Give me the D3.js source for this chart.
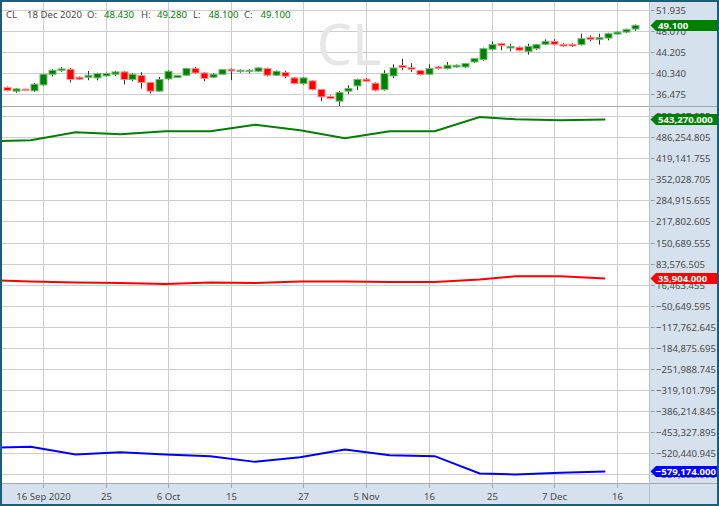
<!DOCTYPE html>
<html><head><meta charset="utf-8">
<script src="https://cdn.jsdelivr.net/npm/d3@7"></script>
<style>body{margin:0;background:#fff;} svg{display:block;font-family:"Noto Sans",sans-serif;}</style>
</head><body><svg id="c" width="719" height="506"></svg>
<script>
// ---------- DATA ----------
const symbol = "CL";
const calendarDays = ["2020-09-08","2020-09-09",
 "2020-09-10","2020-09-11","2020-09-14","2020-09-15","2020-09-16","2020-09-17","2020-09-18","2020-09-21","2020-09-22","2020-09-23","2020-09-24","2020-09-25","2020-09-28","2020-09-29","2020-09-30",
 "2020-10-01","2020-10-02","2020-10-05","2020-10-06","2020-10-07","2020-10-08","2020-10-09","2020-10-12","2020-10-13","2020-10-14","2020-10-15","2020-10-16","2020-10-19","2020-10-20","2020-10-21","2020-10-22","2020-10-23","2020-10-26","2020-10-27","2020-10-28","2020-10-29","2020-10-30",
 "2020-11-02","2020-11-03","2020-11-04","2020-11-05","2020-11-06","2020-11-09","2020-11-10","2020-11-11","2020-11-12","2020-11-13","2020-11-16","2020-11-17","2020-11-18","2020-11-19","2020-11-20","2020-11-23","2020-11-24","2020-11-25","2020-11-27","2020-11-30",
 "2020-12-01","2020-12-02","2020-12-03","2020-12-04","2020-12-07","2020-12-08","2020-12-09","2020-12-10","2020-12-11","2020-12-14","2020-12-15","2020-12-16","2020-12-17","2020-12-18"];
const candleDates = calendarDays.slice(2);
const opens  = [37.68,37.00,37.36,37.05,38.15,40.11,40.79,41.03,39.56,39.56,39.44,39.80,40.11,40.54,39.14,39.87,38.59,37.00,39.25,39.51,39.93,41.16,40.35,39.56,40.11,41.03,40.60,40.60,40.66,41.16,39.93,40.42,39.44,38.41,38.89,37.31,36.02,35.16,37.00,37.97,39.20,38.46,37.31,39.80,41.71,41.34,40.79,40.11,41.45,41.16,41.45,41.45,42.37,42.81,44.70,45.74,44.94,45.07,44.33,44.83,45.62,46.17,45.62,45.62,45.56,46.90,46.53,46.77,47.51,47.87,48.43];
const highs  = [37.85,37.55,37.45,38.50,40.20,41.00,41.45,41.28,39.70,40.72,40.40,40.40,40.72,40.70,40.30,40.48,38.70,39.62,40.85,40.00,41.30,41.45,40.50,40.30,41.10,41.20,41.00,41.03,41.40,41.30,40.80,40.76,39.60,39.60,39.00,37.40,36.20,37.00,38.10,39.30,39.40,38.60,40.85,41.95,42.98,42.13,40.90,41.95,41.60,42.37,41.90,42.20,43.10,45.00,46.17,45.90,45.74,45.20,45.74,45.70,46.53,46.53,45.80,45.80,47.58,47.27,47.58,47.75,48.00,48.50,49.28];
const lows   = [36.98,36.70,37.05,36.90,38.00,39.70,40.54,38.59,39.05,39.01,39.00,39.70,39.75,38.23,38.83,37.49,36.57,36.85,39.00,39.40,39.80,40.20,38.83,39.40,40.00,39.02,40.40,40.30,40.50,39.70,39.80,39.38,38.25,38.20,37.15,35.16,35.50,34.25,36.45,37.18,38.70,37.00,37.10,39.38,40.85,40.54,39.90,39.95,41.00,41.00,41.30,41.30,42.20,42.60,44.50,44.52,44.33,44.35,43.73,44.60,45.50,45.45,45.20,45.15,45.40,46.17,45.56,46.35,47.35,47.70,48.10];
const closes = [37.13,37.42,37.12,38.28,40.11,40.85,41.09,39.14,39.20,39.93,40.24,40.24,40.54,39.14,40.11,38.59,37.00,39.14,40.66,39.87,41.16,40.35,39.33,40.11,40.97,40.72,40.85,40.85,41.28,39.93,40.66,39.75,38.41,39.44,37.31,35.95,35.66,36.76,37.49,39.14,38.83,37.18,40.24,41.27,41.34,41.03,40.06,41.16,41.16,41.77,41.77,42.08,42.99,44.83,45.56,45.38,45.25,44.52,45.25,45.56,46.17,45.62,45.31,45.31,46.66,46.53,46.85,47.58,47.87,48.37,49.10];

const weekDates = ["2020-09-08","2020-09-15","2020-09-22","2020-09-29","2020-10-06","2020-10-13","2020-10-20","2020-10-27","2020-11-03","2020-11-10","2020-11-17","2020-11-24","2020-12-01","2020-12-08","2020-12-15"];
const greenSeries = [472864,476690,502196,495820,505385,505385,526428,508573,483066,505385,505385,550977,543644,540455,543270];
const redSeries   = [31122,26339,23151,21557,18368,23151,21557,26339,26339,24745,24745,32716,42918,42918,35904];
const blueSeries  = [-504249,-500742,-524973,-517640,-524973,-530393,-548566,-533581,-509031,-527205,-530393,-585551,-588739,-583638,-579174];

const priceTicks = [51.935,48.070,44.205,40.340,36.475];
const posTicks = [553367.855,486254.805,419141.755,352028.705,284915.655,217802.605,150689.555,83576.505,16463.455,-50649.595,-117762.645,-184875.695,-251988.745,-319101.795,-386214.845,-453327.895,-520440.945,-587553.995];
const dateTicks = ["2020-09-16","2020-09-25","2020-10-06","2020-10-15","2020-10-27","2020-11-05","2020-11-16","2020-11-25","2020-12-07","2020-12-16"];
const dateTickLabels = ["16 Sep 2020","25","6 Oct","15","27","5 Nov","16","25","7 Dec","16"];

// ---------- LAYOUT ----------
const W=719, H=506, PR=649.5, PM=106, PB=483;
const axisBg="#d6e1ee", gridC="#cdcdcd", textC="#4a4a4a", sepC="#a8a8a8";
const upC="#008000", dnC="#ff0000";
const FS = 9.6;

const svg = d3.select("#c");
const idx = d => calendarDays.indexOf(d);
const x = d3.scaleLinear().domain([2, 72]).range([6.79, 635.25]);
const yP = d3.scaleLinear().domain([34.267, 53.775]).range([PM, 0]);
const yV = d3.scaleLinear().domain([-615941, 586048]).range([PB, PM]);

svg.append("rect").attr("width",W).attr("height",H).attr("fill","#fff");
svg.append("rect").attr("x",PR).attr("y",0).attr("width",W-PR).attr("height",H).attr("fill",axisBg);
svg.append("rect").attr("x",0).attr("y",PB).attr("width",W).attr("height",H-PB).attr("fill",axisBg);

const defs = svg.append("defs");
defs.append("clipPath").attr("id","clipTop").append("rect").attr("x",0).attr("y",0).attr("width",PR).attr("height",PM);
defs.append("clipPath").attr("id","clipBot").append("rect").attr("x",0).attr("y",PM).attr("width",PR).attr("height",PB-PM);

// vertical grid
const g = svg.append("g");
dateTicks.forEach((d,i)=>{
  const xx = Math.round(x(idx(d)))+0.5;
  g.append("line").attr("x1",xx).attr("x2",xx).attr("y1",0).attr("y2",PB).attr("stroke",gridC);
  g.append("line").attr("x1",xx).attr("x2",xx).attr("y1",PB).attr("y2",PB+5).attr("stroke",sepC);
  g.append("text").attr("x",xx).attr("y",500).attr("text-anchor","middle").attr("font-size",FS).attr("fill",textC).text(dateTickLabels[i]);
});
// horizontal grid + right axis labels
function hAxis(ticks, scale, fmt){
  ticks.forEach(t=>{
    const yy = Math.round(scale(t))+0.5;
    g.append("line").attr("x1",0).attr("x2",PR).attr("y1",yy).attr("y2",yy).attr("stroke",gridC);
    g.append("line").attr("x1",PR+1.5).attr("x2",PR+5).attr("y1",yy).attr("y2",yy).attr("stroke","#999");
    g.append("text").attr("x",656).attr("y",yy+3.4).attr("font-size",FS).attr("fill",textC).text(fmt(t));
  });
}
hAxis(priceTicks, yP, d3.format(".3f"));
hAxis(posTicks, yV, d3.format(",.3f"));

// watermark
svg.append("text").attr("x",349).attr("y",65).attr("text-anchor","middle").attr("font-size",56).attr("fill","#e6e6e6").text(symbol);

// candles
const candles = candleDates.map((d,i)=>({d,o:opens[i],h:highs[i],l:lows[i],c:closes[i]}));
const cg = svg.append("g").attr("clip-path","url(#clipTop)");
const bw = 7;
cg.selectAll("line.w").data(candles).join("line")
  .attr("x1",d=>Math.round(x(idx(d.d)))+0.5).attr("x2",d=>Math.round(x(idx(d.d)))+0.5)
  .attr("y1",d=>yP(d.h)).attr("y2",d=>yP(d.l)).attr("stroke","#333").attr("stroke-width",1);
cg.selectAll("rect.b").data(candles).join("rect")
  .attr("x",d=>Math.round(x(idx(d.d)))+0.5-bw/2)
  .attr("width",bw)
  .attr("y",d=>yP(Math.max(d.o,d.c)))
  .attr("height",d=>Math.max(1,Math.abs(yP(d.o)-yP(d.c))))
  .attr("fill",d=>d.c>=d.o?upC:dnC)
  .attr("stroke",d=>d.c>=d.o?"#6fbf6f":"#ff8c8c").attr("stroke-width",1);

// lines
const lg = svg.append("g").attr("clip-path","url(#clipBot)");
function drawSeries(vals, color){
  const pts = weekDates.map((d,i)=>[x(idx(d))-3, yV(vals[i])]);
  lg.append("path").attr("d",d3.line()(pts)).attr("fill","none").attr("stroke",color).attr("stroke-width",2);
}
drawSeries(greenSeries, upC);
drawSeries(redSeries, dnC);
drawSeries(blueSeries, "#0000ff");

// separators
svg.append("line").attr("x1",0).attr("x2",W).attr("y1",PM+0.5).attr("y2",PM+0.5).attr("stroke",sepC);
svg.append("line").attr("x1",0).attr("x2",W).attr("y1",PB+0.5).attr("y2",PB+0.5).attr("stroke",sepC);
svg.append("line").attr("x1",PR).attr("x2",PR).attr("y1",0).attr("y2",H).attr("stroke","#b4bfcc");

// header
const last = candles[candles.length-1];
const hc = last.c>=last.o?upC:dnC;
const f3 = d3.format(".3f");
const header = [
  {t:symbol,x:6,c:textC},{t:"18 Dec 2020",x:27,c:textC},
  {t:"O:",x:87,c:textC},{t:f3(last.o),x:104,c:hc},
  {t:"H:",x:141,c:textC},{t:f3(last.h),x:157,c:hc},
  {t:"L:",x:193,c:textC},{t:f3(last.l),x:208.5,c:hc},
  {t:"C:",x:244,c:textC},{t:f3(last.c),x:260.5,c:hc}];
header.forEach(h=>svg.append("text").attr("x",h.x).attr("y",18).attr("font-size",FS).attr("fill",h.c).text(h.t));

// value labels
function valueLabel(yy, txt, color){
  const gg = svg.append("g");
  const path = gg.append("path").attr("fill",color);
  const t = gg.append("text").attr("y",yy+3.5).attr("font-size",FS).attr("font-weight","bold").attr("fill","#fff").text(txt);
  const tw = t.node().getComputedTextLength();
  const tx = Math.min(658, 716 - tw);
  t.attr("x",tx);
  const left = PR+1, tip = 5.5;
  path.attr("d",`M${left},${yy} L${left+tip},${yy-5.5} L${W-2},${yy-5.5} L${W-2},${yy+5.5} L${left+tip},${yy+5.5} Z`);
}
const fv = d3.format(",.3f");
valueLabel(yP(last.c), f3(last.c), upC);
valueLabel(yV(greenSeries[greenSeries.length-1]), fv(greenSeries[greenSeries.length-1]), upC);
valueLabel(yV(redSeries[redSeries.length-1]), fv(redSeries[redSeries.length-1]), dnC);
valueLabel(yV(blueSeries[blueSeries.length-1]), fv(blueSeries[blueSeries.length-1]), "#0000ff");

// outer border
svg.append("rect").attr("x",1).attr("y",1).attr("width",W-2).attr("height",H-2).attr("fill","none").attr("stroke","#1e5c78").attr("stroke-width",2);
</script></body></html>
